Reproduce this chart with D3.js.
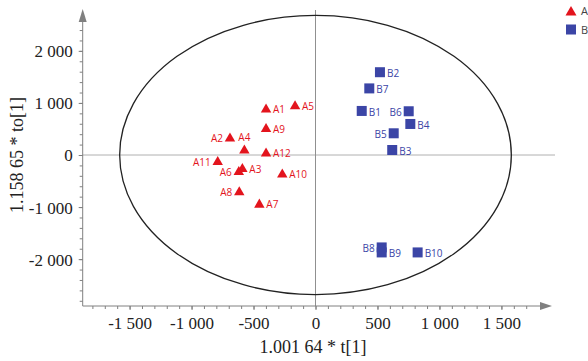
<!DOCTYPE html>
<html><head><meta charset="utf-8">
<script src="https://cdn.jsdelivr.net/npm/d3@7"></script>
<style>
html,body{margin:0;padding:0;background:#fff;}
svg{display:block;}
</style></head>
<body>
<script>
// ---- data ----
const labelsA = ["A1","A2","A3","A4","A5","A6","A7","A8","A9","A10","A11","A12"];
const tA = [-399,-690,-590,-574,-165,-619,-453,-615,-399,-268,-789,-399];
const toA = [898,340,-244,110,962,-302,-929,-692,525,-352,-110,52];
const labelsB = ["B1","B2","B3","B4","B5","B6","B7","B8","B9","B10"];
const tB = [373,520,619,765,631,752,434,534,534,824];
const toB = [846,1590,96,596,417,840,1279,-1775,-1871,-1871];
const xTicks = [-1500,-1000,-500,0,500,1000,1500];
const yTicks = [-2000,-1000,0,1000,2000];
const groups = ["A","B"];
const ellipseRadii = [1580, 2680]; // Hotelling T2 ellipse semi-axes (t, to)
const xTitle = "1.001 64 * t[1]";
const yTitle = "1.158 65 * to[1]";

// ---- drawing ----
const W = 588, H = 361;
const colA = "#e3141d", colB = "#3b45a6";
const svg = d3.select("body").append("svg").attr("width", W).attr("height", H);

const x = d3.scaleLinear().domain([-1900, 1900]).range([80, 551]);
const y = d3.scaleLinear().domain([-2900, 2900]).range([306, 4]);
const x0 = 82.7, yBase = 306;

const loc = d3.formatLocale({decimal: ".", thousands: " ", grouping: [3], currency: ["", ""], minus: "-"});
const fmt = loc.format(",");

// reference lines
svg.append("line").attr("x1", x0).attr("x2", 555).attr("y1", y(0)).attr("y2", y(0))
  .attr("stroke", "#b0b0b0").attr("stroke-width", 1);
svg.append("line").attr("x1", x(0)).attr("x2", x(0)).attr("y1", 10).attr("y2", yBase)
  .attr("stroke", "#909090").attr("stroke-width", 1);

// ellipse
svg.append("ellipse").attr("cx", x(0)).attr("cy", y(0))
  .attr("rx", x(ellipseRadii[0]) - x(0)).attr("ry", y(0) - y(ellipseRadii[1]))
  .attr("fill", "none").attr("stroke", "#222").attr("stroke-width", 1.3);

// axes
const axisCol = "#808080";
const gx = svg.append("g").attr("transform", `translate(0,${yBase})`);
gx.call(d3.axisBottom(x).tickValues(d3.range(-1800, 1800, 100)).tickSize(3).tickFormat(""));
gx.call(g => g.append("g").call(d3.axisBottom(x).tickValues(xTicks).tickSize(4).tickFormat(fmt)));
gx.selectAll(".domain").remove();
gx.selectAll("line").attr("stroke", axisCol);
gx.selectAll("text").attr("font-family", "Liberation Serif, Times New Roman, serif")
  .attr("font-size", 17).attr("fill", "#222").attr("dy", null).attr("y", 23);
gx.append("line").attr("x1", x0).attr("x2", 545).attr("y1", 0).attr("y2", 0).attr("stroke", axisCol);
gx.append("path").attr("d", "M552,0 L540,-4 L540,4 Z").attr("fill", axisCol);

const gy = svg.append("g").attr("transform", `translate(${x0},0)`);
gy.call(d3.axisLeft(y).tickValues(d3.range(-2800, 2500, 200)).tickSize(3).tickFormat(""));
gy.call(g => g.append("g").call(d3.axisLeft(y).tickValues(yTicks).tickSize(4).tickFormat(fmt)));
gy.selectAll(".domain").remove();
gy.selectAll("line").attr("stroke", axisCol);
gy.selectAll("text").attr("font-family", "Liberation Serif, Times New Roman, serif")
  .attr("font-size", 17).attr("fill", "#222").attr("x", -10).attr("dy", "0.35em");
gy.append("line").attr("x1", 0).attr("x2", 0).attr("y1", 18).attr("y2", yBase).attr("stroke", axisCol);
gy.append("path").attr("d", "M0,9 L-4,22 L4,22 Z").attr("fill", axisCol);

// axis titles
svg.append("text").attr("x", 313).attr("y", 353).attr("text-anchor", "middle")
  .attr("font-family", "Liberation Serif, Times New Roman, serif").attr("font-size", 18).attr("fill", "#222")
  .text(xTitle);
svg.append("text").attr("transform", `translate(23,155) rotate(-90)`).attr("text-anchor", "middle")
  .attr("font-family", "Liberation Serif, Times New Roman, serif").attr("font-size", 18).attr("fill", "#222")
  .text(yTitle);

// markers
const tri = (cx, cy, s) => `M${cx},${cy - s*0.5} L${cx + s*0.55},${cy + s*0.45} L${cx - s*0.55},${cy + s*0.45} Z`;
const ptsA = labelsA.map((l, i) => ({l, t: tA[i], to: toA[i]}));
const ptsB = labelsB.map((l, i) => ({l, t: tB[i], to: toB[i]}));

svg.append("g").selectAll("path").data(ptsA).join("path")
  .attr("d", d => tri(x(d.t), y(d.to), 9.5)).attr("fill", colA);
svg.append("g").selectAll("rect").data(ptsB).join("rect")
  .attr("x", d => x(d.t) - 5).attr("y", d => y(d.to) - 5).attr("width", 10).attr("height", 10)
  .attr("fill", colB);

// labels
const leftLabels = new Set(["A2","A11","A6","A8","B5","B6","B8"]);
const topLabels = new Set(["A4"]);
function placeLabels(pts, col) {
  svg.append("g").selectAll("text").data(pts).join("text")
    .attr("font-family", "Open Sans, sans-serif").attr("font-size", 10).attr("fill", col)
    .attr("x", d => x(d.t) + (topLabels.has(d.l) ? 0 : leftLabels.has(d.l) ? -7 : 7))
    .attr("y", d => y(d.to) + (topLabels.has(d.l) ? -8 : 5))
    .attr("text-anchor", d => topLabels.has(d.l) ? "middle" : leftLabels.has(d.l) ? "end" : "start")
    .text(d => d.l);
}
placeLabels(ptsA, colA);
placeLabels(ptsB, colB);

// legend
const lg = svg.append("g");
lg.append("path").attr("d", tri(571, 11, 10)).attr("fill", colA);
lg.append("rect").attr("x", 566).attr("y", 24.5).attr("width", 10).attr("height", 10).attr("fill", colB);
lg.selectAll("text").data(groups).join("text")
  .attr("x", 581).attr("y", (d, i) => 15 + i * 19)
  .attr("font-family", "Open Sans, sans-serif").attr("font-size", 11).attr("fill", "#444")
  .text(d => d);
</script>
</body></html>
